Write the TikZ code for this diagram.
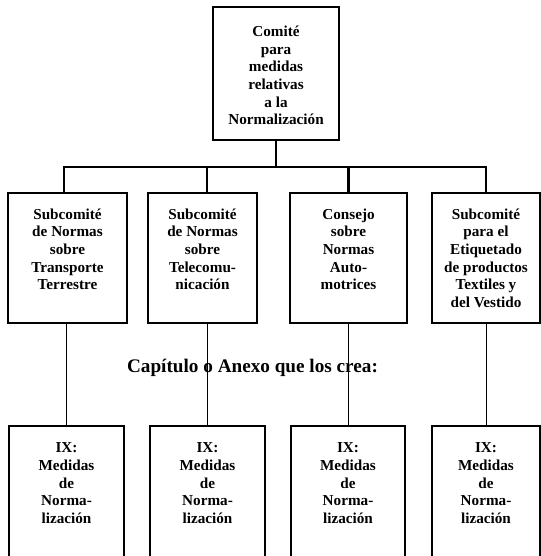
\documentclass[tikz,border=0pt]{standalone}
\usepackage{fontspec}
\setmainfont{Liberation Serif}
\newcommand{\bxt}[4]{\parbox[c][#2][t]{#1}{\centering\vspace*{#3}\fontsize{11.4}{13.2}\selectfont\bfseries\strut #4\par}}
\begin{document}
\begin{tikzpicture}[x=0.75pt,y=-0.75pt,
  orgbox/.style={draw,line width=1.2pt,inner sep=0pt,outer sep=0pt,rectangle},
  busline/.style={line width=2pt},
  thinline/.style={line width=0.6pt}]
\useasboundingbox (0,0) rectangle (541,556);
\clip (0,0) rectangle (541,556);
% top
\node[orgbox] (top) at (276,73.5) {\bxt{94.5pt}{99.75pt}{13pt}{Comité\\para\\medidas\\relativas\\a la\\Normalización}};
% row 2 (top y=193)
\node[orgbox,anchor=north] (r1) at (67.5,193) {\bxt{89.25pt}{97.5pt}{10.5pt}{Subcomité\\de Normas\\sobre\\Transporte\\Terrestre}};
\node[orgbox,anchor=north] (r2) at (202.5,193) {\bxt{81.75pt}{97.5pt}{10.5pt}{Subcomité\\de Normas\\sobre\\Telecomu-\\nicación}};
\node[orgbox,anchor=north] (r3) at (348.5,193) {\bxt{87.75pt}{97.5pt}{10.5pt}{Consejo\\sobre\\Normas\\Auto-\\motrices}};
\node[orgbox,anchor=north] (r4) at (486,193) {\bxt{81pt}{97.5pt}{10.5pt}{Subcomité\\para el\\Etiquetado\\de productos\\Textiles y\\del Vestido}};
% bottom row (top y=426), open at the bottom edge
\node[orgbox,anchor=north] (q1) at (66.5,426) {\bxt{86.25pt}{120pt}{11pt}{IX:\\Medidas\\de\\Norma-\\lización}};
\node[orgbox,anchor=north] (q2) at (207.5,426) {\bxt{86.25pt}{120pt}{11pt}{IX:\\Medidas\\de\\Norma-\\lización}};
\node[orgbox,anchor=north] (q3) at (348,426) {\bxt{85.5pt}{120pt}{11pt}{IX:\\Medidas\\de\\Norma-\\lización}};
\node[orgbox,anchor=north] (q4) at (486,426) {\bxt{81pt}{120pt}{11pt}{IX:\\Medidas\\de\\Norma-\\lización}};
% bus
\coordinate (bus) at (0,167);
\coordinate (c1) at (64,0);
\coordinate (c2) at (207,0);
\draw[busline] (top.south) -- (top.south |- bus);
\draw[busline] (c1 |- r1.north) -- (c1 |- bus) -- (r4.north |- bus) -- (r4.north);
\draw[busline] (c2 |- r2.north) -- (c2 |- bus);
\draw[busline] (r3.north) -- (r3.north |- bus);
% thin connectors
\draw[thinline] (q1.north |- r1.south) -- (q1.north);
\draw[thinline] (q2.north |- r2.south) -- (q2.north);
\draw[thinline] (q3.north |- r3.south) -- (q3.north);
\draw[thinline] (q4.north |- r4.south) -- (q4.north);
% label
\node[inner sep=0pt,font=\fontsize{14.4}{16}\selectfont\bfseries] (cap) at (252.5,368) {Capítulo o Anexo que los crea:};
\end{tikzpicture}
\end{document}
